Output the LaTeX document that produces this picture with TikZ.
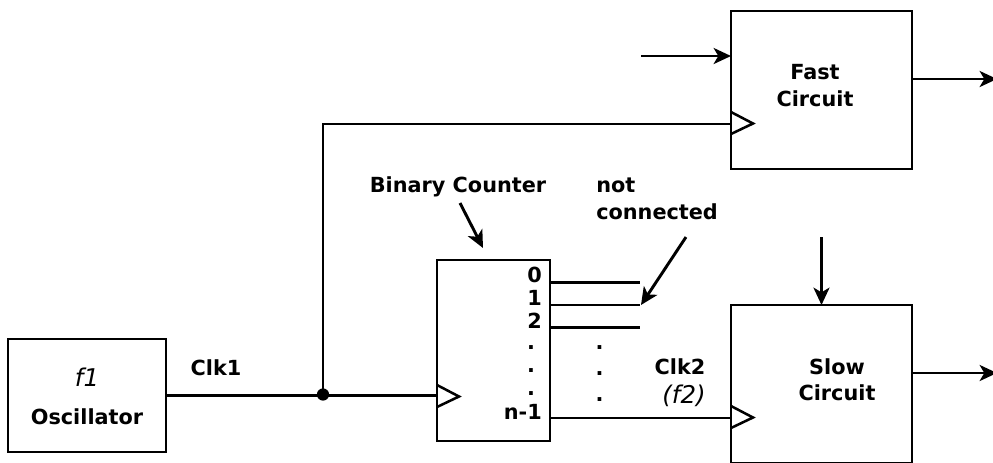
\documentclass[tikz,border=0pt]{standalone}
\usepackage{fontspec}
\setmainfont{DejaVu Sans}
\usetikzlibrary{arrows.meta}
\tikzset{
  box/.style={draw,line width=2.2pt,inner sep=0pt,outer sep=0pt,anchor=north west,minimum width=#1},
  wire/.style={line width=2.2pt},
  arr/.style={line width=2.2pt,-{Stealth[length=13pt,width=12pt,inset=3.5pt]}},
  clk/.style={line width=1.9pt,line join=miter},
  lab/.style={font=\fontsize{15.6pt}{19.8pt}\bfseries\selectfont,inner sep=0pt,align=center},
  ital/.style={font=\fontsize{18.3pt}{20pt}\itshape\selectfont,inner sep=0pt},
  num/.style={lab,anchor=east}
}
\begin{document}
\begin{tikzpicture}[x=0.75pt,y=-0.75pt]
\useasboundingbox (0,0) rectangle (993,462);
\clip (0,0) rectangle (993,462);
% blocks
\node[box=118.5pt,minimum height=84.75pt] (osc) at (8,339) {};
\node[box=84.75pt,minimum height=135.75pt] (ctr) at (437,260) {};
\node[box=135.75pt,minimum height=118.5pt] (fast) at (731,11) {};
\node[box=135.75pt,minimum height=118.5pt] (slow) at (731,305) {};
% free ends and ports
\coordinate (j) at (323,394.5);
\coordinate (ck1) at (437,395.5);
\coordinate (ckf) at (731,124);
\coordinate (cks) at (731,418);
\coordinate (q0) at (550,282.5);
\coordinate (q1) at (550,305);
\coordinate (q2) at (550,327.5);
\coordinate (qn) at (550,418);
\coordinate (e0) at (640,282.5);
\coordinate (e1) at (640,305);
\coordinate (e2) at (640,327.5);
\coordinate (fin) at (641,56);
\coordinate (fi) at (731,56);
\coordinate (fo) at (912,79);
\coordinate (foe) at (997,79);
\coordinate (so) at (912,373);
\coordinate (soe) at (997,373);
\coordinate (sin) at (821.5,237);
\coordinate (si) at (821.5,305);
\coordinate (b1) at (460,203);
\coordinate (b2) at (483,248);
\coordinate (n1) at (686,237);
\coordinate (n2) at (641,305);
% wires
\draw[wire] (osc.east) -- (ck1);
\draw[wire] (j) -- (j |- ckf) -- (ckf);
\draw[wire] (q0) -- (e0);
\draw[wire] (q1) -- (e1);
\draw[wire] (q2) -- (e2);
\draw[wire] (qn) -- (cks);
\fill (j) circle (4.6pt);
% clock triangles
\draw[clk] (437,385) -- (459,396.5) -- (437,407);
\draw[clk] (731,112) -- (753,123.5) -- (731,134);
\draw[clk] (731,406) -- (753,417.5) -- (731,428);
% arrows
\draw[arr] (fin) -- (fi);
\draw[arr] (fo) -- (foe);
\draw[arr] (so) -- (soe);
\draw[arr] (sin) -- (si);
\draw[arr] (b1) -- (b2);
\draw[arr] (n1) -- (n2);
% labels
\node[ital] (t1) at (87,377) {f1};
\node[lab] (t2) at (87,417) {Oscillator};
\node[lab] (t3) at (216,367.5) {Clk1};
\node[lab] (t4) at (458,187) {Binary Counter};
\node[lab,align=left,anchor=west] (t5) at (596,199) {not\\connected};
\node[lab] (t6) at (680,367) {Clk2};
\node[ital] (t7) at (684,395.5) {(f2)};
\node[lab] (t8) at (815,85.5) {Fast\\Circuit};
\node[lab] (t9) at (837,379.5) {Slow\\Circuit};
\node[num] (n0) at (542,275) {0};
\node[num] (n11) at (542,298) {1};
\node[num] (n22) at (542,321) {2};
\node[lab] (d1) at (531,348) {.};
\node[lab] (d2) at (531,371) {.};
\node[lab] (d3) at (531,394) {.};
\node[num] (nn) at (542,412) {n-1};
\node[lab] (d4) at (599.5,348) {.};
\node[lab] (d5) at (599.5,374) {.};
\node[lab] (d6) at (599.5,400) {.};
\end{tikzpicture}
\end{document}
